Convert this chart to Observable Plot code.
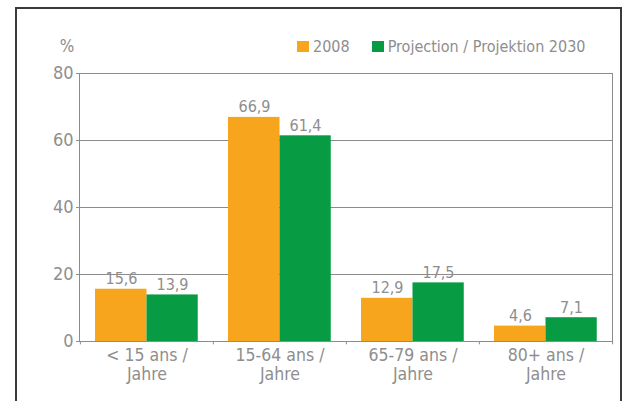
<!DOCTYPE html>
<html>
<head>
<meta charset="utf-8">
<script src="https://cdn.jsdelivr.net/npm/d3@7"></script>
<script src="https://cdn.jsdelivr.net/npm/@observablehq/plot@0.6"></script>
<style>
  html, body { margin: 0; padding: 0; background: #fff; overflow: hidden; }
  #wrap { position: relative; width: 622px; height: 401px; overflow: hidden;
          font-family: "DejaVu Sans Condensed", "Liberation Sans Narrow", sans-serif; }
  #outer { position: absolute; left: 15px; top: 7px; width: 603px; height: 500px;
           border: 2px solid #3a3a3a; border-bottom: none; pointer-events: none; }
  #legend { position: absolute; top: 35px; left: 297px; height: 22px; display: flex; align-items: center;
            font-size: 16px; color: #8e8e8e; white-space: nowrap; }
  .sw { display: inline-block; width: 12px; height: 11px; margin-right: 4px; }
  .item { display: inline-flex; align-items: center; margin-right: 22px; }
  #chart { position: absolute; left: 0; top: 0; }
</style>
</head>
<body>
<div id="wrap">
  <div id="chart"></div>
  <div id="outer"></div>
  <div id="legend"></div>
</div>
<script>
const categories = ["< 15 ans /\nJahre", "15-64 ans /\nJahre", "65-79 ans /\nJahre", "80+ ans /\nJahre"];
const values2008 = [15.6, 66.9, 12.9, 4.6];
const values2030 = [13.9, 61.4, 17.5, 7.1];
const seriesNames = ["2008", "Projection / Projektion 2030"];
const seriesColors = ["#f7a51c", "#079c43"];
const yTicks = [0, 20, 40, 60, 80];
const yMax = 80;

const d2008 = categories.map((c, i) => ({cat: c, v: values2008[i]}));
const d2030 = categories.map((c, i) => ({cat: c, v: values2030[i]}));
const fmt = v => String(v.toFixed(1)).replace(".", ",");

const W = 622, H = 401, mL = 79, mR = 10, mT = 73, mB = 60;
const band = (W - mL - mR) / categories.length;
const gray = "#8e8e8e";
const lineGray = "#8c8c8c";

const plot = Plot.plot({
  width: W, height: H,
  marginLeft: mL, marginRight: mR, marginTop: mT, marginBottom: mB,
  style: {background: "transparent", fontFamily: '"DejaVu Sans Condensed", "Liberation Sans Narrow", sans-serif', fontSize: "18px", color: gray},
  x: {domain: categories, padding: 0, axis: null},
  y: {domain: [0, yMax], ticks: yTicks, tickSize: 3, tickPadding: 3, label: null, tickFormat: d => String(d)},
  marks: [
    Plot.ruleY(yTicks.filter(t => t > 0 && t < yMax), {stroke: lineGray, strokeWidth: 1}),
    Plot.barY(d2008, {x: "cat", y: "v", fill: seriesColors[0], insetLeft: 15, insetRight: band - 66.75}),
    Plot.barY(d2030, {x: "cat", y: "v", fill: seriesColors[1], insetLeft: 66.5, insetRight: 15.25}),
    Plot.frame({stroke: lineGray, strokeWidth: 1}),
    Plot.ruleX(categories, {x: d => d, dx: -band / 2, y1: 0, y2: -1, stroke: lineGray}),
    Plot.ruleX([categories[categories.length - 1]], {x: d => d, dx: band / 2, y1: 0, y2: -1, stroke: lineGray}),
    Plot.text(d2008, {x: "cat", y: "v", text: d => fmt(d.v), dx: -25.5, dy: -5, lineAnchor: "bottom", fill: gray, fontSize: 16}),
    Plot.text(d2030, {x: "cat", y: "v", text: d => fmt(d.v), dx: 25.5, dy: -5, lineAnchor: "bottom", fill: gray, fontSize: 16}),
    Plot.text(categories, {x: d => d, frameAnchor: "bottom", text: d => d, lineAnchor: "top", dy: 6, lineHeight: 1.08, fill: gray, fontSize: 17.5}),
    Plot.text(["%"], {frameAnchor: "top-left", text: d => d, dx: -12.5, dy: -34, lineAnchor: "top", textAnchor: "middle", fill: gray, fontSize: 17})
  ]
});
document.getElementById("chart").appendChild(plot);

const legend = document.getElementById("legend");
seriesNames.forEach((n, i) => {
  const it = document.createElement("span");
  it.className = "item";
  const sw = document.createElement("span");
  sw.className = "sw";
  sw.style.background = seriesColors[i];
  it.appendChild(sw);
  it.appendChild(document.createTextNode(n));
  legend.appendChild(it);
});
</script>
</body>
</html>
